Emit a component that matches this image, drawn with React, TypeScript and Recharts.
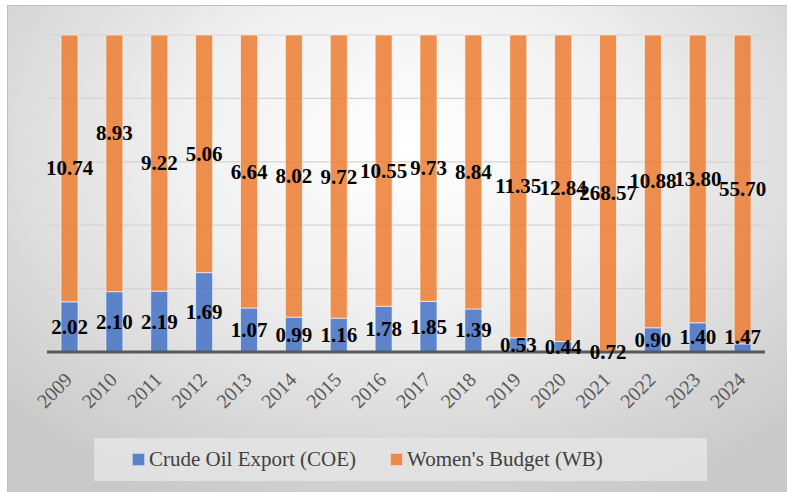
import { Bar, BarChart, CartesianGrid, LabelList, XAxis, YAxis } from 'recharts';

const years = ['2009', '2010', '2011', '2012', '2013', '2014', '2015', '2016', '2017', '2018', '2019', '2020', '2021', '2022', '2023', '2024'];
const coe = [2.02, 2.1, 2.19, 1.69, 1.07, 0.99, 1.16, 1.78, 1.85, 1.39, 0.53, 0.44, 0.72, 0.9, 1.4, 1.47];
const wb = [10.74, 8.93, 9.22, 5.06, 6.64, 8.02, 9.72, 10.55, 9.73, 8.84, 11.35, 12.84, 268.57, 10.88, 13.8, 55.7];
const shareTicks = [0, 0.2, 0.4, 0.6, 0.8, 1];

const rows = years.map((year, i) => ({ year, coe: coe[i], wb: wb[i] }));

const FONT = "Liberation Serif, serif";
const BLUE = '#4472C4';
const ORANGE = '#ED7D31';

// a couple of labels were dragged off-centre in the original
const wbNudge: Record<number, number> = { 1: -30 };
const coeNudge: Record<number, number> = { 15: -11 };

const valueLabel = (nudge: Record<number, number>) => (props: any) => {
  const { x, y, width, height, value, index } = props;
  return (
    <text
      x={Number(x) + Number(width) / 2}
      y={Number(y) + Number(height) / 2 + (nudge[index] ?? 0)}
      textAnchor="middle"
      dominantBaseline="central"
      fontFamily={FONT}
      fontWeight="bold"
      fontSize={21}
      fill="#000"
    >
      {Number(value).toFixed(2)}
    </text>
  );
};

const YearTick = ({ x, y, payload }: any) => (
  <g transform={`translate(${x + 4},${y + 29})`}>
    <text transform="rotate(-45)" textAnchor="end" fontFamily={FONT} fontSize={20} fill="#595959">
      {payload.value}
    </text>
  </g>
);

const legendItems = [
  { label: 'Crude Oil Export (COE)', color: BLUE },
  { label: "Women's Budget (WB)", color: ORANGE },
];

export default function App() {
  return (
    <div style={{ position: 'absolute', left: 0, top: 0, width: 787, height: 492, overflow: 'hidden', background: '#fff' }}>
      <div
        style={{
          position: 'absolute', left: 7, top: 5, width: 800, height: 510,
          border: '1px solid #bfbfbf',
          background: 'radial-gradient(ellipse 70% 75% at 50% 28%, #ffffff 0%, #f1f1f1 40%, #d6d6d6 80%, #c9c9c9 100%)',
        }}
      />
      <div style={{ position: 'absolute', left: 0, top: 0 }}>
        <BarChart width={787} height={492} data={rows} stackOffset="expand" barSize={17}
          margin={{ top: 35, right: 22, bottom: 0, left: 47 }}>
          <CartesianGrid vertical={false} stroke="#d4d4d4" strokeWidth={1.2} />
          <YAxis hide domain={[0, 1]} ticks={shareTicks} />
          <XAxis dataKey="year" height={140} tickSize={0} tickMargin={0} interval={0}
            axisLine={{ stroke: '#595959', strokeWidth: 3 }} tickLine={false} tick={<YearTick />} />
          <Bar dataKey="coe" stackId="a" fill={BLUE} fillOpacity={0.85} stroke="#fff" strokeOpacity={0.6} isAnimationActive={false}>
            <LabelList dataKey="coe" content={valueLabel(coeNudge)} />
          </Bar>
          <Bar dataKey="wb" stackId="a" fill={ORANGE} fillOpacity={0.85} stroke="#fff" strokeOpacity={0.6} isAnimationActive={false}>
            <LabelList dataKey="wb" content={valueLabel(wbNudge)} />
          </Bar>
        </BarChart>
      </div>
      <div
        style={{
          position: 'absolute', left: 94, top: 438, width: 613, height: 43, boxSizing: 'border-box', paddingLeft: 38,
          background: 'rgba(228,228,228,0.85)', display: 'flex', alignItems: 'center', justifyContent: 'flex-start',
          gap: 34, fontFamily: FONT, fontSize: 21, color: '#404040',
        }}
      >
        {legendItems.map((it) => (
          <span key={it.label} style={{ display: 'flex', alignItems: 'center' }}>
            <span style={{ display: 'inline-block', width: 11, height: 11, background: it.color, opacity: 0.85, border: '1px solid rgba(255,255,255,0.6)', marginRight: 4 }} />
            {it.label}
          </span>
        ))}
      </div>
    </div>
  );
}
